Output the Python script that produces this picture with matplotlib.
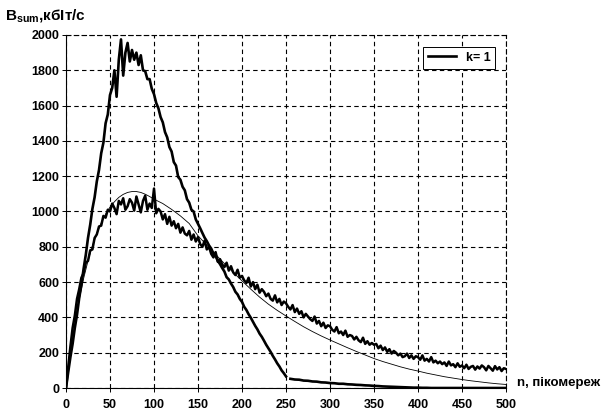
import numpy as np
import matplotlib
matplotlib.use("Agg")
import matplotlib.pyplot as plt

# --- data ---
# fast curve (peak ~1900), sampled every 2.5 up to n=250
n_fast = np.arange(0, 250.1, 2.5)
b_fast = [0, 90, 175, 250, 340, 415, 510, 585, 675, 755,
          850, 925, 1015, 1080, 1170, 1235, 1330, 1390, 1500, 1550,
          1660, 1700, 1800, 1650, 1860, 1975, 1770, 1900, 1955, 1850,
          1915, 1860, 1900, 1830, 1885, 1800, 1795, 1750, 1750, 1695,
          1665, 1615, 1585, 1535, 1505, 1450, 1420, 1365, 1340, 1280,
          1260, 1195, 1180, 1140, 1120, 1070, 1050, 1010, 1000, 955,
          930, 905, 878, 852, 832, 808, 790, 762, 748, 720,
          702, 680, 660, 628, 615, 592, 572, 545, 530, 505,
          488, 460, 442, 418, 398, 375, 352, 332, 308, 290,
          268, 245, 225, 205, 182, 162, 140, 122, 100, 84,
          66]
# its tail, every 5 from 255 to 500
n_fast_tail = np.arange(255, 500.1, 5)
b_fast_tail = [52, 48, 47, 42, 41, 37, 36, 32, 31, 28,
               27, 24, 24, 21, 20, 18, 17, 15, 14, 12,
               11, 9, 8, 7, 6, 5, 4, 3, 2, 2,
               1, 1, 0, 0, 0, 0, 0, 0, 0, 0,
               0, 0, 0, 0, 0, 0, 0, 0, 0, 0]

# slow curve (peak ~1050), every 2.5 from 0 to 500
n_slow = np.arange(0, 500.1, 2.5)
b_slow = [0, 120, 235, 340, 410, 505, 560, 625, 650, 710,
          720, 780, 785, 850, 870, 915, 920, 975, 965, 1010,
          1000, 1045, 1020, 985, 1060, 1040, 1075, 1010, 1030, 1070,
          1050, 1005, 1085, 1040, 995, 1060, 1090, 1010, 1045, 1020,
          1130, 990, 1015, 1000, 955, 985, 930, 970, 920, 945,
          905, 930, 880, 910, 875, 865, 890, 840, 870, 830,
          855, 815, 800, 835, 785, 800, 760, 740, 770, 715,
          730, 700, 685, 710, 665, 690, 655, 640, 670, 625,
          635, 610, 595, 625, 575, 600, 560, 585, 540, 560,
          545, 520, 535, 505, 495, 525, 485, 505, 470, 490,
          480, 460, 445, 470, 430, 450, 420, 435, 400, 420,
          405, 390, 380, 405, 365, 380, 350, 370, 340, 355,
          350, 330, 320, 345, 310, 320, 300, 325, 290, 300,
          295, 275, 290, 270, 260, 285, 250, 265, 245, 255,
          245, 250, 225, 240, 215, 230, 205, 220, 195, 210,
          200, 185, 195, 175, 180, 195, 170, 185, 165, 180,
          175, 160, 185, 155, 165, 150, 175, 145, 155, 140,
          150, 135, 145, 125, 150, 128, 135, 118, 140, 120,
          128, 112, 132, 108, 120, 125, 104, 122, 110, 128,
          118, 100, 125, 112, 98, 124, 105, 118, 96, 112,
          108]

# thin smooth fit curve
n_fit = [0, 5, 10, 15, 20, 25, 30, 35, 40, 45, 50, 55, 60, 65, 70, 75, 80,
         85, 90, 95, 100, 110, 120, 130, 140, 150, 160, 170, 180, 190, 200,
         210, 220, 230, 240, 250, 260, 270, 280, 290, 300, 310, 320, 330,
         340, 350, 360, 370, 380, 390, 400, 410, 420, 430, 440, 450, 460,
         470, 480, 490, 500]
b_fit = [0, 190, 360, 500, 620, 720, 805, 875, 935, 985, 1025, 1055, 1080,
         1097, 1108, 1113, 1113, 1108, 1098, 1085, 1070, 1045, 1012, 975,
         932, 862, 810, 757, 705, 655, 607, 560, 515, 475, 440, 408, 377,
         347, 320, 295, 272, 250, 228, 207, 187, 167, 150, 135, 120, 107,
         96, 84, 74, 64, 56, 48, 41, 35, 29, 24, 20]

x_ticks = list(range(0, 501, 50))
y_ticks = list(range(0, 2001, 200))


def main():
    plt.rcParams['font.family'] = ['Liberation Sans', 'DejaVu Sans']
    plt.rcParams['font.weight'] = 'bold'
    plt.rcParams['mathtext.fontset'] = 'custom'
    plt.rcParams['mathtext.bf'] = 'Liberation Sans:bold'
    plt.rcParams['mathtext.rm'] = 'Liberation Sans:bold'

    fig = plt.figure(figsize=(6.03, 4.11), dpi=100)
    ax = fig.add_axes([66 / 603, 23 / 411, 440 / 603, 353 / 411])

    ax.plot(n_fast, b_fast, color='black', lw=1.9, label='k= 1')
    ax.plot(n_fast_tail, b_fast_tail, color='black', lw=1.9)
    ax.plot(n_slow, b_slow, color='black', lw=1.8)
    ax.plot(n_fit, b_fit, color='black', lw=0.6)

    ax.set_xlim(0, 500)
    ax.set_ylim(0, 2000)
    ax.set_xticks(x_ticks)
    ax.set_yticks(y_ticks)
    ax.tick_params(labelsize=9, length=3, width=0.7, pad=2)
    ax.tick_params(axis='x', pad=5)
    ax.grid(True, color='black', linestyle=(0, (4, 3)), linewidth=0.8)
    for side in ['top', 'right']:
        ax.spines[side].set_linestyle((0, (4, 3)))
        ax.spines[side].set_linewidth(0.8)
    for side in ['left', 'bottom']:
        ax.spines[side].set_linewidth(0.8)

    leg = ax.legend(loc='upper right', fontsize=9, handlelength=2.2,
                    fancybox=False, edgecolor='black', framealpha=1,
                    borderpad=0.4, bbox_to_anchor=(0.99, 0.985))
    leg.get_frame().set_linewidth(0.7)

    fig.text(5 / 603, 1 - 16 / 411, r'$\mathbf{B_{sum}}$,кбІт/с',
             fontsize=11, va='center', ha='left')
    fig.text(517 / 603, 1 - 383 / 411, 'n, пікомереж',
             fontsize=9.5, va='center', ha='left')

    fig.savefig('out.png', dpi=100)


if __name__ == '__main__':
    main()
